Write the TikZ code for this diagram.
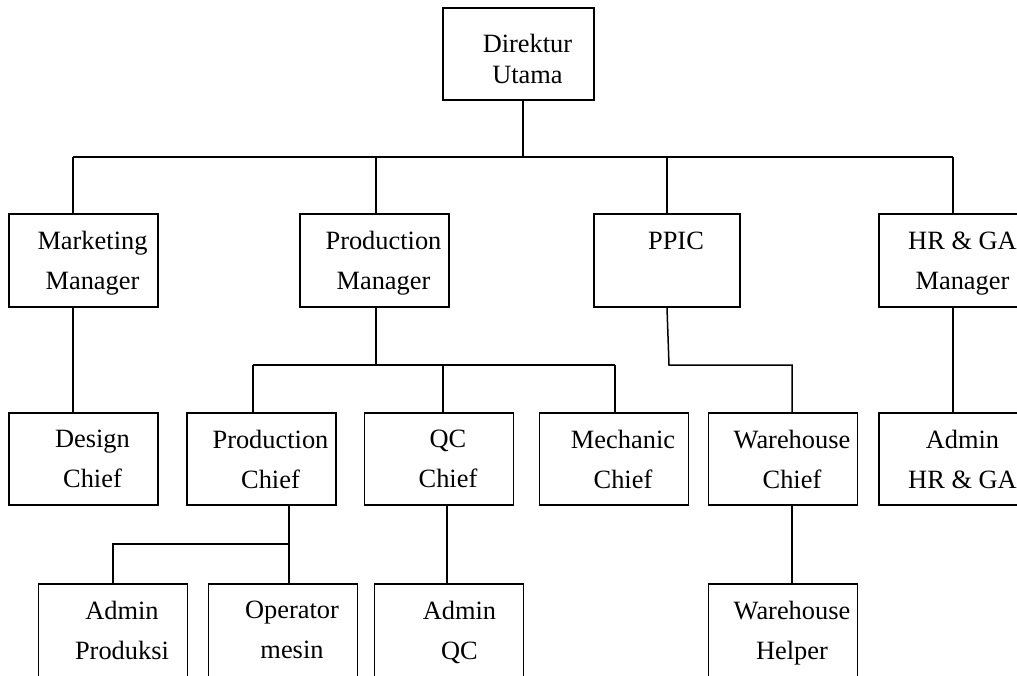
\documentclass[tikz,border=0pt]{standalone}
\usepackage{fontspec}
\setmainfont{Liberation Serif}
\usepackage{tikz}
\usetikzlibrary{positioning, calc}

\begin{document}
\begin{tikzpicture}[x=1pt, y=-1pt,
    box/.style={draw, line width=1.5pt, minimum width=149pt, minimum height=93pt, inner sep=0pt},
    txt/.style={font=\fontsize{26.4}{40}\selectfont, align=center, text depth=6pt, xshift=9pt, yshift=-3pt},
    link/.style={line width=1.5pt}]
    \useasboundingbox (0,0) rectangle (1017,675);
    \clip (0,0) rectangle (1017,675);

    % top
    \node[box, minimum width=151pt, minimum height=92pt,
          label={[txt, font=\fontsize{26.4}{31}\selectfont, yshift=-4.5pt]center:{Direktur\\Utama}}] (dir) at (518.5,54) {};

    % managers
    \node[box, label={[txt]center:{Marketing\\Manager}}]   (mkt)  at (83.5,260.5) {};
    \node[box, label={[txt]center:{Production\\Manager}}]  (pm)   at (374.5,260.5) {};
    \node[box, minimum width=146pt, label={[txt]center:{PPIC\\\mbox{}}}] (ppic) at (667,260.5) {};
    \node[box, label={[txt]center:{HR \& GA\\Manager}}]    (hr)   at (953.5,260.5) {};

    % chiefs
    \node[box, minimum height=92pt, label={[txt]center:{Design\\Chief}}]     (des)  at (83.5,459) {};
    \node[box, minimum height=92pt, label={[txt]center:{Production\\Chief}}] (pc)   at (261.5,459) {};
    \node[box, minimum height=92pt, label={[txt]center:{QC\\Chief}}]         (qc)   at (439,459) {};
    \node[box, minimum height=92pt, label={[txt]center:{Mechanic\\Chief}}]   (mech) at (614,459) {};
    \node[box, minimum height=92pt, label={[txt]center:{Warehouse\\Chief}}]  (wc)   at (783,459) {};
    \node[box, minimum height=92pt, label={[txt]center:{Admin\\HR \& GA}}]   (ahr)  at (953.5,459) {};

    % staff (boxes run past the bottom edge)
    \node[box, minimum height=100pt, label={[txt, yshift=4pt]center:{Admin\\Produksi}}]  (ap)  at (113,634) {};
    \node[box, minimum height=100pt, label={[txt, yshift=4pt]center:{Operator\\mesin}}]  (op)  at (283,634) {};
    \node[box, minimum height=100pt, label={[txt, yshift=4pt, xshift=1.5pt]center:{Admin\\QC}}] (aqc) at (449,634) {};
    \node[box, minimum height=100pt, label={[txt, yshift=4pt]center:{Warehouse\\Helper}}] (wh)  at (783,634) {};

    \coordinate (top bus) at (0,157);
    \coordinate (mid bus) at (0,365);
    \coordinate (low bus) at (0,544);

    % direktur to managers
    \draw[link] ([xshift=4.5pt]dir.south) -- ([xshift=4.5pt]dir.south |- top bus);
    \draw[link] ([xshift=-10.5pt]mkt.north |- top bus) -- ([xshift=-0.5pt]hr.north |- top bus);
    \foreach \n/\dx in {mkt/-10.5, pm/1.5, ppic/0, hr/-0.5}
        \draw[link] ([xshift=\dx pt]\n.north) -- ([xshift=\dx pt]\n.north |- top bus);

    % managers to chiefs
    \draw[link] ([xshift=-10.5pt]mkt.south) -- ([xshift=-10.5pt]des.north);
    \draw[link] ([xshift=1.5pt]pm.south) -- ([xshift=1.5pt]pm.south |- mid bus);
    \draw[link] ([xshift=-8.5pt]pc.north |- mid bus) -- ([xshift=1pt]mech.north |- mid bus);
    \foreach \n/\dx in {pc/-8.5, qc/4, mech/1}
        \draw[link] ([xshift=\dx pt]\n.north) -- ([xshift=\dx pt]\n.north |- mid bus);
    \draw[link] (ppic.south) -- ([xshift=2pt]ppic.south |- mid bus) -| ([xshift=9pt]wc.north);
    \draw[link] ([xshift=-0.5pt]hr.south) -- ([xshift=-0.5pt]ahr.north);

    % chiefs to staff
    \draw[link] ([xshift=27.5pt]pc.south) -- ([xshift=6pt]op.north);
    \draw[link] (ap.north) -- (ap.north |- low bus) -- ([xshift=27.5pt]pc.south |- low bus);
    \draw[link] ([xshift=8pt]qc.south) -- ([xshift=-2pt]aqc.north);
    \draw[link] ([xshift=9pt]wc.south) -- ([xshift=9pt]wh.north);
\end{tikzpicture}
\end{document}
